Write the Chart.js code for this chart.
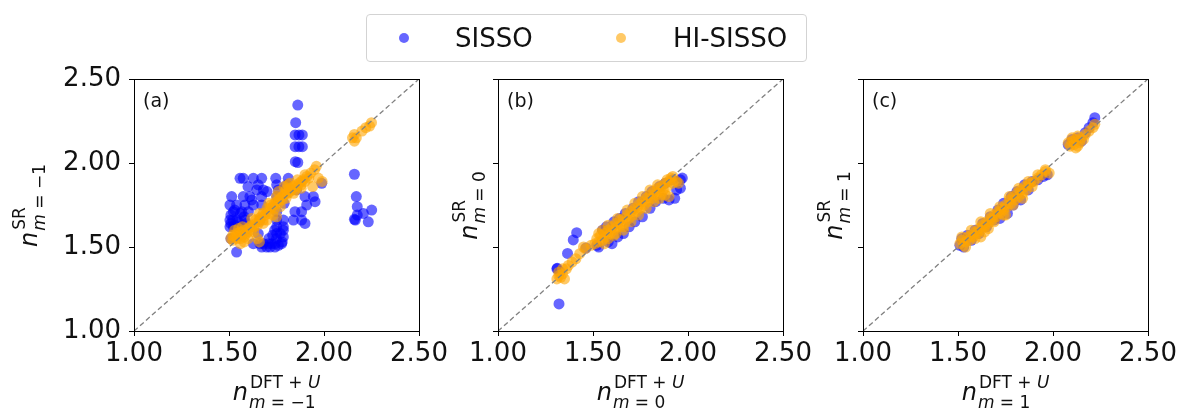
<!DOCTYPE html>
<html>
<head>
<meta charset="utf-8">
<script src="https://cdn.jsdelivr.net/npm/chart.js@4/dist/chart.umd.min.js"></script>
<style>
  body { margin: 0; background: #fff; }
  #wrap { position: relative; width: 1180px; height: 409px; overflow: hidden; background: #fff; font-family: "DejaVu Sans", sans-serif; }
  canvas { position: absolute; top: 0; }
  .legend { position: absolute; left: 366px; top: 14px; width: 439px; height: 46px; border: 1px solid #d3d3d3; border-radius: 4px; }
  .dot { position: absolute; top: 18px; width: 10px; height: 10px; border-radius: 50%; }
  .lbl { position: absolute; top: 0; line-height: 46px; font-size: 26px; color: #111; }
</style>
</head>
<body>
<div id="wrap">
  <canvas id="chartA" width="460" height="409" style="left:0px"></canvas>
  <canvas id="chartB" width="460" height="409" style="left:364px"></canvas>
  <canvas id="chartC" width="460" height="409" style="left:729px"></canvas>
  <div class="legend">
    <span class="dot" style="left:32px;background:rgba(0,0,255,0.6)"></span>
    <span class="lbl" style="left:88px">SISSO</span>
    <span class="dot" style="left:249px;background:rgba(255,165,0,0.6)"></span>
    <span class="lbl" style="left:306px">HI-SISSO</span>
  </div>
</div>
<script>
/* axis settings */
var axisMin = 1.0;
var axisMax = 2.5;
var tickStep = 0.5;
var seriesNames = ['SISSO', 'HI-SISSO'];
var panelTags = ['(a)', '(b)', '(c)'];
var subLabels = ['= \u22121', '= 0', '= 1'];

/* panel (a): m = -1, points as [DFT+U, SR] */
var sissoA = [
  [1.862, 2.345], [1.851, 2.24], [1.848, 2.167], [1.868, 2.167], [1.886, 2.167],
  [1.848, 2.097], [1.868, 2.097], [1.886, 2.097], [1.849, 2.008], [1.862, 2.003],
  [2.16, 1.933], [2.17, 1.80], [2.175, 1.74], [2.16, 1.665], [2.175, 1.69],
  [2.207, 1.70], [2.251, 1.72], [2.233, 1.65], [2.165, 1.66],
  [1.558, 1.909], [1.575, 1.909], [1.628, 1.909], [1.672, 1.909], [1.746, 1.909], [1.812, 1.909],
  [1.654, 1.87], [1.751, 1.87], [1.804, 1.87],
  [1.646, 1.84], [1.681, 1.84], [1.76, 1.84], [1.856, 1.84],
  [1.514, 1.80], [1.575, 1.80], [1.610, 1.80], [1.672, 1.80], [1.751, 1.80], [1.90, 1.80], [1.944, 1.80],
  [1.505, 1.75], [1.540, 1.75], [1.584, 1.75], [1.628, 1.75], [1.672, 1.75], [1.909, 1.75], [1.953, 1.77],
  [1.523, 1.71], [1.567, 1.71], [1.602, 1.71], [1.751, 1.71], [1.847, 1.71], [1.882, 1.71],
  [1.505, 1.66], [1.54, 1.66], [1.584, 1.66], [1.663, 1.66], [1.751, 1.66], [1.839, 1.66], [1.882, 1.66], [1.786, 1.66], [1.90, 1.64],
  [1.505, 1.62], [1.523, 1.62], [1.751, 1.62], [1.786, 1.62], [1.786, 1.60],
  [1.751, 1.58], [1.786, 1.56], [1.654, 1.58],
  [1.628, 1.52], [1.663, 1.52], [1.681, 1.52], [1.707, 1.52], [1.725, 1.52], [1.742, 1.52], [1.777, 1.52],
  [1.672, 1.50], [1.698, 1.50], [1.716, 1.50], [1.742, 1.50],
  [1.54, 1.47], [1.988, 1.879], [1.51, 1.55],
  [1.51, 1.64], [1.52, 1.66], [1.53, 1.63], [1.55, 1.65], [1.51, 1.69], [1.53, 1.72], [1.56, 1.70],
  [1.58, 1.68], [1.56, 1.62], [1.59, 1.64], [1.71, 1.55], [1.73, 1.57], [1.75, 1.55], [1.77, 1.58],
  [1.74, 1.60], [1.78, 1.53], [1.76, 1.51], [1.62, 1.78], [1.60, 1.86], [1.70, 1.83], [1.79, 1.76]
];
var hiA = [
  [1.51, 1.55], [1.52, 1.57], [1.52, 1.54], [1.53, 1.56], [1.54, 1.58], [1.54, 1.55], [1.55, 1.57],
  [1.56, 1.55], [1.56, 1.59], [1.57, 1.57], [1.58, 1.56], [1.58, 1.60], [1.59, 1.58], [1.60, 1.61],
  [1.60, 1.59], [1.61, 1.62], [1.62, 1.60], [1.62, 1.63], [1.63, 1.62], [1.64, 1.64], [1.64, 1.66],
  [1.65, 1.63], [1.66, 1.67], [1.66, 1.65], [1.67, 1.68], [1.68, 1.66], [1.68, 1.70], [1.69, 1.69],
  [1.70, 1.71], [1.70, 1.73], [1.71, 1.70], [1.72, 1.73], [1.72, 1.75], [1.73, 1.74], [1.74, 1.76],
  [1.74, 1.73], [1.75, 1.77], [1.76, 1.78], [1.76, 1.76], [1.77, 1.79], [1.78, 1.80], [1.78, 1.78],
  [1.79, 1.81], [1.80, 1.82], [1.80, 1.84], [1.81, 1.82], [1.82, 1.85], [1.82, 1.83], [1.83, 1.84],
  [1.84, 1.86], [1.85, 1.84], [1.85, 1.87], [1.86, 1.86], [1.87, 1.88], [1.88, 1.87], [1.88, 1.89],
  [1.89, 1.90], [1.90, 1.89], [1.91, 1.92], [1.92, 1.91], [1.93, 1.94], [1.95, 1.96], [1.96, 1.98],
  [1.97, 1.91], [1.99, 1.89], [1.94, 1.86], [1.81, 1.87], [1.79, 1.86], [1.76, 1.83], [1.65, 1.55],
  [1.66, 1.53], [1.75, 1.68], [1.70, 1.66], [1.63, 1.59], [1.57, 1.62],
  [1.53, 1.60], [1.56, 1.52], [1.60, 1.55], [1.62, 1.67], [1.66, 1.70], [1.68, 1.64], [1.71, 1.76],
  [1.73, 1.69], [1.75, 1.80], [1.77, 1.74], [1.80, 1.79], [1.82, 1.88], [1.84, 1.82], [1.86, 1.90],
  [1.88, 1.85], [1.90, 1.93], [1.58, 1.53], [1.55, 1.61],
  [2.15, 2.15], [2.16, 2.13], [2.16, 2.17], [2.17, 2.15], [2.20, 2.19], [2.22, 2.21], [2.24, 2.22], [2.25, 2.24]
];

/* panel (b): m = 0 */
var sissoB = [
  [1.321, 1.161], [1.366, 1.462], [1.396, 1.542], [1.414, 1.585], [1.312, 1.373], [1.326, 1.353],
  [1.31, 1.37], [1.463, 1.494], [1.52, 1.51], [1.53, 1.50], [1.55, 1.60], [1.57, 1.62], [1.58, 1.53],
  [1.60, 1.52], [1.61, 1.65], [1.63, 1.56], [1.64, 1.67], [1.66, 1.58], [1.67, 1.70], [1.69, 1.62],
  [1.71, 1.73], [1.72, 1.65], [1.74, 1.77], [1.76, 1.68], [1.78, 1.80], [1.80, 1.73], [1.81, 1.83],
  [1.83, 1.77], [1.85, 1.86], [1.87, 1.79], [1.88, 1.88], [1.90, 1.78], [1.92, 1.90], [1.94, 1.84],
  [1.96, 1.90], [1.97, 1.91], [1.96, 1.85], [1.93, 1.79]
];
var hiB = [
  [1.31, 1.31], [1.32, 1.33], [1.32, 1.35], [1.33, 1.32], [1.34, 1.34], [1.36, 1.37], [1.37, 1.39],
  [1.39, 1.41], [1.41, 1.43], [1.43, 1.46], [1.46, 1.49], [1.49, 1.51], [1.51, 1.52], [1.52, 1.55],
  [1.53, 1.53], [1.54, 1.57], [1.55, 1.54], [1.56, 1.58], [1.57, 1.56], [1.58, 1.60], [1.59, 1.58],
  [1.60, 1.62], [1.61, 1.60], [1.62, 1.64], [1.63, 1.62], [1.64, 1.66], [1.65, 1.63], [1.66, 1.67],
  [1.67, 1.65], [1.68, 1.69], [1.69, 1.67], [1.70, 1.71], [1.71, 1.69], [1.72, 1.73], [1.73, 1.71],
  [1.74, 1.75], [1.75, 1.73], [1.76, 1.77], [1.77, 1.75], [1.78, 1.79], [1.79, 1.77], [1.80, 1.81],
  [1.81, 1.79], [1.82, 1.83], [1.83, 1.81], [1.84, 1.85], [1.85, 1.83], [1.86, 1.86], [1.87, 1.84],
  [1.88, 1.88], [1.89, 1.86], [1.90, 1.89], [1.91, 1.91], [1.92, 1.88], [1.94, 1.89], [1.95, 1.88],
  [1.88, 1.81], [1.85, 1.79], [1.90, 1.80], [1.62, 1.58], [1.58, 1.55], [1.66, 1.62], [1.45, 1.50],
  [1.53, 1.58], [1.56, 1.52], [1.58, 1.63], [1.61, 1.57], [1.63, 1.67], [1.66, 1.60], [1.68, 1.72],
  [1.70, 1.65], [1.72, 1.76], [1.74, 1.69], [1.76, 1.80], [1.78, 1.73], [1.80, 1.84], [1.82, 1.77],
  [1.84, 1.87], [1.86, 1.81], [1.89, 1.90], [1.92, 1.92], [1.55, 1.60], [1.34, 1.37], [1.35, 1.31]
];

/* panel (c): m = 1 */
var sissoC = [
  [1.51, 1.51], [1.52, 1.55], [1.53, 1.50], [1.55, 1.57], [1.57, 1.54], [1.59, 1.60], [1.61, 1.58],
  [1.63, 1.64], [1.65, 1.62], [1.67, 1.68], [1.69, 1.66], [1.71, 1.72], [1.72, 1.67], [1.74, 1.76],
  [1.76, 1.70], [1.78, 1.80], [1.79, 1.75], [1.81, 1.83], [1.83, 1.78], [1.85, 1.87], [1.87, 1.84],
  [1.89, 1.89], [1.92, 1.90], [1.95, 1.92], [1.97, 1.93], [2.08, 2.11], [2.10, 2.14], [2.13, 2.15],
  [2.15, 2.13], [2.17, 2.18], [2.19, 2.21], [2.21, 2.24], [2.22, 2.27]
];
var hiC = [
  [1.51, 1.52], [1.52, 1.54], [1.53, 1.51], [1.54, 1.53], [1.55, 1.56], [1.56, 1.54], [1.57, 1.57],
  [1.58, 1.56], [1.59, 1.59], [1.60, 1.58], [1.61, 1.61], [1.62, 1.60], [1.63, 1.63], [1.64, 1.62],
  [1.65, 1.65], [1.66, 1.64], [1.67, 1.67], [1.68, 1.66], [1.69, 1.69], [1.70, 1.68], [1.71, 1.71],
  [1.72, 1.70], [1.73, 1.73], [1.74, 1.72], [1.75, 1.75], [1.76, 1.74], [1.77, 1.78], [1.78, 1.76],
  [1.79, 1.80], [1.80, 1.78], [1.81, 1.82], [1.82, 1.80], [1.83, 1.84], [1.84, 1.82], [1.85, 1.86],
  [1.86, 1.84], [1.87, 1.87], [1.88, 1.88], [1.90, 1.89], [1.92, 1.91], [1.94, 1.93], [1.96, 1.95],
  [1.98, 1.94], [1.62, 1.56], [1.75, 1.69], [1.66, 1.61],
  [1.52, 1.56], [1.54, 1.50], [1.57, 1.60], [1.59, 1.55], [1.62, 1.65], [1.64, 1.59], [1.67, 1.70],
  [1.69, 1.65], [1.72, 1.74], [1.74, 1.69], [1.77, 1.80], [1.79, 1.75], [1.82, 1.85], [1.84, 1.79],
  [1.87, 1.89], [1.89, 1.86], [1.92, 1.93], [1.96, 1.96],
  [2.08, 2.12], [2.09, 2.10], [2.10, 2.13], [2.11, 2.11], [2.12, 2.14], [2.13, 2.10], [2.14, 2.12],
  [2.15, 2.15], [2.17, 2.17], [2.19, 2.19], [2.21, 2.21], [2.22, 2.23], [2.10, 2.15], [2.13, 2.16],
  [2.16, 2.14], [2.12, 2.09]
];

var FONT = '"DejaVu Sans", sans-serif';

/* turns [x, y] pairs into chart.js points */
function toPoints(pairs) {
  return pairs.map(function(p) { return { x: p[0], y: p[1] }; });
}

/* width of a list of [text, italic] pieces */
function partsWidth(ctx, parts, size) {
  var w = 0;
  parts.forEach(function(p) {
    ctx.font = (p[1] ? 'italic ' : '') + size + 'px ' + FONT;
    w += ctx.measureText(p[0]).width;
  });
  return w;
}

function drawParts(ctx, parts, x, y, size) {
  parts.forEach(function(p) {
    ctx.font = (p[1] ? 'italic ' : '') + size + 'px ' + FONT;
    ctx.fillText(p[0], x, y);
    x += ctx.measureText(p[0]).width;
  });
}

/* n with a superscript and a subscript, centred on (x, y) */
function drawMathLabel(ctx, x, y, rotated, sup, sub) {
  ctx.save();
  ctx.translate(x, y);
  if (rotated) ctx.rotate(-Math.PI / 2);
  ctx.fillStyle = '#111';
  ctx.textAlign = 'left';
  ctx.textBaseline = 'alphabetic';
  ctx.font = 'italic 24px ' + FONT;
  var nW = ctx.measureText('n').width;
  var total = nW + 2 + Math.max(partsWidth(ctx, sup, 17), partsWidth(ctx, sub, 17));
  var x0 = -total / 2;
  ctx.font = 'italic 24px ' + FONT;
  ctx.fillText('n', x0, 0);
  drawParts(ctx, sup, x0 + nW + 2, -12, 17);
  drawParts(ctx, sub, x0 + nW + 1, 8, 17);
  ctx.restore();
}

/* frame, panel tag and axis titles */
var panelDecor = {
  id: 'panelDecor',
  afterDraw: function(chart, args, opts) {
    var ctx = chart.ctx;
    var area = chart.chartArea;
    ctx.save();
    ctx.strokeStyle = '#000';
    ctx.lineWidth = 1;
    ctx.strokeRect(area.left + 0.5, area.top + 0.5, area.right - area.left, area.bottom - area.top);
    ctx.fillStyle = '#111';
    ctx.font = '19px ' + FONT;
    ctx.textBaseline = 'alphabetic';
    ctx.fillText(opts.tag, area.left + 9, area.top + 28);
    ctx.restore();

    var sub = [['m', true], [' ' + opts.sub, false]];
    drawMathLabel(ctx, (area.left + area.right) / 2, 400, false,
      [['DFT + ', false], ['U', true]], sub);
    drawMathLabel(ctx, area.left - opts.yTitleGap, (area.top + area.bottom) / 2, true,
      [['SR', false]], sub);
  }
};

function makePanel(canvasId, sisso, hi, idx) {
  var showY = idx === 0;
  var ctx = document.getElementById(canvasId).getContext('2d');
  return new Chart(ctx, {
    type: 'scatter',
    data: {
      datasets: [{
        label: seriesNames[0],
        data: toPoints(sisso),
        backgroundColor: 'rgba(0, 0, 255, 0.6)',
        borderWidth: 0,
        pointRadius: 5.5,
        order: 3
      }, {
        label: seriesNames[1],
        data: toPoints(hi),
        backgroundColor: 'rgba(255, 165, 0, 0.6)',
        borderWidth: 0,
        pointRadius: 5.5,
        order: 2
      }, {
        type: 'line',
        label: 'y = x',
        data: [{ x: axisMin, y: axisMin }, { x: axisMax, y: axisMax }],
        borderColor: '#808080',
        borderWidth: 1.3,
        borderDash: [5, 3],
        pointRadius: 0,
        fill: false,
        order: 1
      }]
    },
    options: {
      responsive: false,
      animation: false,
      events: [],
      layout: { padding: { left: 0, top: 79, right: 41, bottom: 0 } },
      plugins: {
        legend: { display: false },
        tooltip: { enabled: false },
        panelDecor: { tag: panelTags[idx], sub: subLabels[idx], yTitleGap: showY ? 97 : 21 }
      },
      scales: {
        x: {
          type: 'linear',
          min: axisMin,
          max: axisMax,
          border: { display: false },
          grid: { drawOnChartArea: false, drawTicks: true, tickLength: 5, tickColor: '#000', color: '#000' },
          ticks: {
            stepSize: tickStep,
            padding: 3,
            color: '#111',
            font: { family: FONT, size: 26 },
            maxRotation: 0,
            callback: function(v) { return v.toFixed(2); }
          },
          afterFit: function(scale) {
            scale.height = 78;
            scale.paddingLeft = 0;
            scale.paddingRight = 0;
          }
        },
        y: {
          type: 'linear',
          min: axisMin,
          max: axisMax,
          border: { display: false },
          grid: { drawOnChartArea: false, drawTicks: true, tickLength: 5, tickColor: '#000', color: '#000' },
          ticks: {
            stepSize: tickStep,
            padding: 8,
            color: '#111',
            font: { family: FONT, size: 26 },
            callback: function(v) { return showY ? v.toFixed(2) : ''; }
          },
          afterFit: function(scale) {
            scale.width = 134;
            scale.paddingTop = 0;
            scale.paddingBottom = 0;
          }
        }
      }
    },
    plugins: [panelDecor]
  });
}

window.onload = function() {
  makePanel('chartA', sissoA, hiA, 0);
  makePanel('chartB', sissoB, hiB, 1);
  makePanel('chartC', sissoC, hiC, 2);
};
</script>
</body>
</html>
